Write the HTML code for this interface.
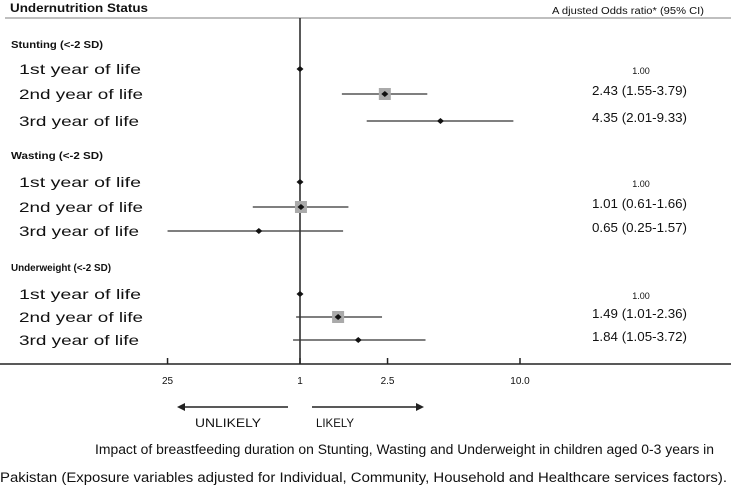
<!DOCTYPE html>
<html><head><meta charset="utf-8"><style>
body{margin:0;background:#fff;}
svg text{font-family:"Liberation Sans",sans-serif;fill:#111;}
</style></head><body>
<svg width="731" height="486">
<line x1="5" y1="18" x2="731" y2="18" stroke="#aaa" stroke-width="1.5"/>
<text x="10" y="12" font-size="12" font-weight="bold" textLength="138" lengthAdjust="spacingAndGlyphs">Undernutrition  Status</text>
<text x="552" y="14" font-size="10" textLength="152" lengthAdjust="spacingAndGlyphs">A djusted Odds ratio* (95% CI)</text>
<line x1="300" y1="18" x2="300" y2="364" stroke="#222" stroke-width="1.5"/>
<line x1="0" y1="364" x2="731" y2="364" stroke="#222" stroke-width="1.5"/>
<g id="ticks"></g>
<g id="rows"></g>
<line x1="182" y1="407" x2="288" y2="407" stroke="#222" stroke-width="1.5"/>
<polygon points="177,407 185,403 185,411" fill="#222"/>
<line x1="312" y1="407" x2="418" y2="407" stroke="#222" stroke-width="1.5"/>
<polygon points="424,407 416,403 416,411" fill="#222"/>
<text x="195" y="427" font-size="12" textLength="66" lengthAdjust="spacingAndGlyphs">UNLIKELY</text>
<text x="316" y="427" font-size="12" textLength="38" lengthAdjust="spacingAndGlyphs">LIKELY</text>
<text x="95" y="454" font-size="13.5" textLength="619" lengthAdjust="spacingAndGlyphs">Impact of breastfeeding duration on Stunting, Wasting and Underweight in children aged 0-3 years in</text>
<text x="0" y="482" font-size="13.5" textLength="727" lengthAdjust="spacingAndGlyphs">Pakistan (Exposure variables adjusted for Individual, Community, Household and Healthcare services factors).</text>
</svg>
<script>
const tickValues=[0.25,1,2.5,10];
const tickLabels=["25","1","2.5","10.0"];
const groups=["Stunting (<-2 SD)","Wasting (<-2 SD)","Underweight (<-2 SD)"];
const rowLabels=["1st year of life","2nd year of life","3rd year of life"];
const estimates=[1,2.43,4.35,1,1.01,0.65,1,1.49,1.84];
const lower=[1,1.55,2.01,1,0.61,0.25,1,0.96,0.93];
const upper=[1,3.79,9.33,1,1.66,1.57,1,2.36,3.72];
const valueText=["1.00","2.43 (1.55-3.79)","4.35 (2.01-9.33)","1.00","1.01 (0.61-1.66)","0.65 (0.25-1.57)","1.00","1.49 (1.01-2.36)","1.84 (1.05-3.72)"];
const NS="http://www.w3.org/2000/svg";
function xs(v){return 300+220*Math.log10(v);}
const groupY=[44,155,267], rowY=[[69,94,121],[182,207,231],[294,317,340]];
const groupW=[92,92,100];
const rowW=[122,124,120];
function mk(t,a,p){const e=document.createElementNS(NS,t);for(const k in a)e.setAttribute(k,a[k]);p.appendChild(e);return e;}
const tg=document.getElementById('ticks');
tickValues.forEach((v,i)=>{
  const x=xs(v);
  const l=mk('line',{x1:x,y1:358,x2:x,y2:364,stroke:'#222','stroke-width':1.5},tg);
  
  
  const t=mk('text',{x:x,y:384,'font-size':10,'text-anchor':'middle'},tg);t.textContent=tickLabels[i];
  
  
});
const rg=document.getElementById('rows');
groups.forEach((g,gi)=>{
  const h=mk('text',{x:11,y:groupY[gi]+4,'font-size':10,'font-weight':'bold',textLength:groupW[gi],lengthAdjust:'spacingAndGlyphs'},rg);h.textContent=g;
  
  
  rowLabels.forEach((r,ri)=>{
    const i=gi*3+ri,y=rowY[gi][ri];
    const t=mk('text',{x:19,y:y+5,'font-size':14,textLength:rowW[ri],lengthAdjust:'spacingAndGlyphs'},rg);t.textContent=r;
    
    
    if(upper[i]>lower[i]){
      const l=mk('line',{x1:xs(lower[i]),y1:y,x2:xs(upper[i]),y2:y,stroke:'#333','stroke-width':1.2},rg);
      
      
    }
    if(ri==1){
      const s=mk('rect',{x:xs(estimates[i])-6,y:y-6,width:12,height:12,fill:'#aaa'},rg);
      
      
    }
    const d=mk('polygon',{points:`${xs(estimates[i])-3.5},${y} ${xs(estimates[i])},${y-3} ${xs(estimates[i])+3.5},${y} ${xs(estimates[i])},${y+3}`,fill:'#111'},rg);
    
    
    const a=ri==0?{x:641,y:y+5,'font-size':9,'text-anchor':'middle'}:{x:592,y:y+1,'font-size':12.5,textLength:95,lengthAdjust:'spacingAndGlyphs'};
    const vt=mk('text',a,rg);vt.textContent=valueText[i];
    
    
  });
});
</script>
</body></html>
